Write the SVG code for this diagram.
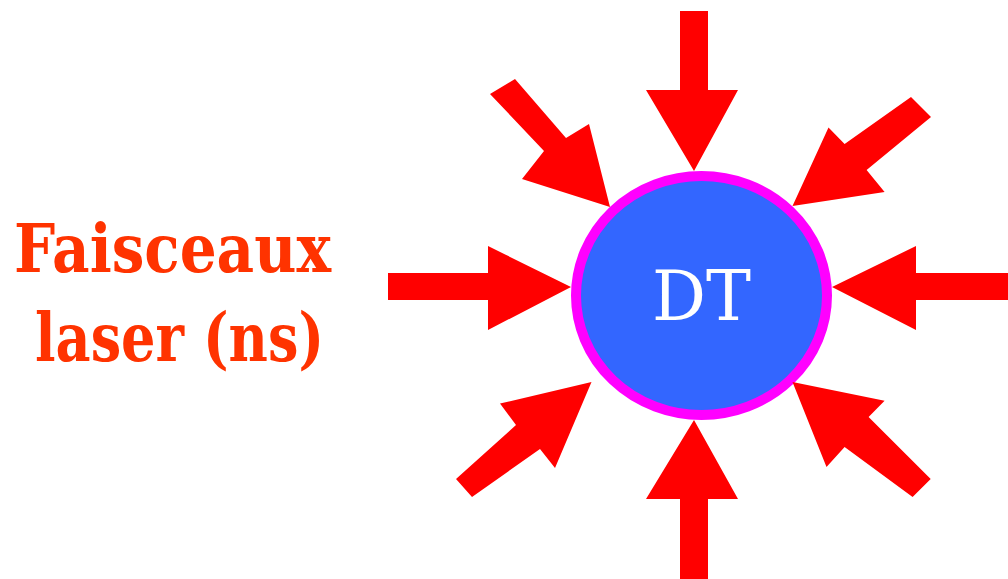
<svg xmlns="http://www.w3.org/2000/svg" width="1008" height="579" viewBox="0 0 1008 579">
<style>
.beam{fill:#FF0000;stroke:none}
.lbl{font-family:"DejaVu Serif","Liberation Serif",serif;font-weight:bold;font-size:68px;fill:#FF3300}
.dt{font-family:"DejaVu Serif","Liberation Serif",serif;font-size:70px;fill:#FFFFFF}
</style>
<rect width="1008" height="579" fill="#FFFFFF"/>
<g id="label">
<text class="lbl" x="14" y="272" textLength="317" lengthAdjust="spacingAndGlyphs">Faisceaux</text>
<text class="lbl" x="35" y="361" textLength="289" lengthAdjust="spacingAndGlyphs">laser (ns)</text>
</g>
<g id="target">
<ellipse cx="701.5" cy="295.5" rx="125.5" ry="119.5" fill="#3366FF" stroke="#FF00FF" stroke-width="10"/>
<text class="dt" x="701.5" y="320" text-anchor="middle" textLength="99" lengthAdjust="spacingAndGlyphs">DT</text>
</g>
<g id="connectors">
<polygon class="beam" points="680,11 708,11 708,90 738,90 694,171 646,90 680,90"/>
<polygon class="beam" points="680,579 708,579 708,499 738,499 694,420 646,499 680,499"/>
<polygon class="beam" points="388,273 488,273 488,246 571,287 488,330 488,300 388,300"/>
<polygon class="beam" points="1008,273 916,273 916,246 832,287 916,330 916,300 1008,300"/>
<polygon class="beam" points="490,94 515,79 566,138 589,124 610,207 522,179 544,151"/>
<polygon class="beam" points="911,97 931,117 866.6,170 884.6,192 792.5,206 828.5,127.4 844.6,144"/>
<polygon class="beam" points="456,479 472,497 540,449 555,468 591.5,382 500,403.6 516,425"/>
<polygon class="beam" points="930.7,479 912.6,497 844.6,447 826.5,467 792.5,382 884.6,400.7 868.6,417"/>
</g>
</svg>
